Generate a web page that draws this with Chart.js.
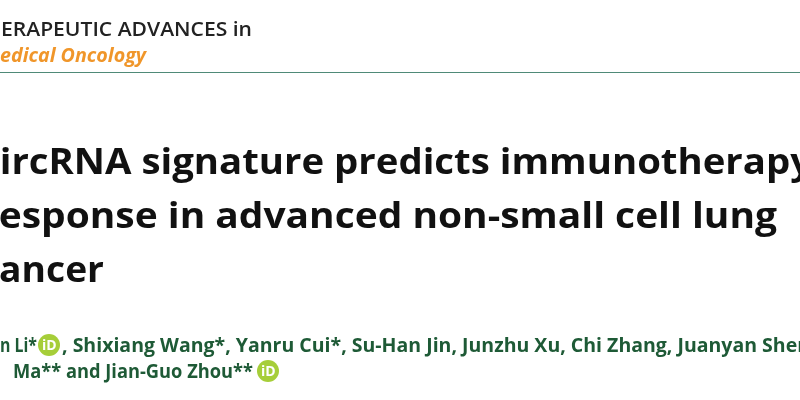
<!DOCTYPE html>
<html><head><meta charset="utf-8">
<script src="https://cdn.jsdelivr.net/npm/chart.js@4"></script>
<style>html,body{margin:0;background:#fff}#c{display:block}</style>
</head><body>
<div style="width:800px;height:400px"><canvas id="c"></canvas></div>
<script>
const journalLines = ["ERAPEUTIC ADVANCES in", "edical Oncology"];
const titleLines = ["circRNA signature predicts immunotherapy", "response in advanced non-small cell lung", "cancer"];
const authorLines = ["n Li*", ", Shixiang Wang*, Yanru Cui*, Su-Han Jin, Junzhu Xu, Chi Zhang, Juanyan Shen", "Ma** and Jian-Guo Zhou**"];

// fit a line to a target width (fonts here differ from the original)
function fitText(ctx, txt, x, y, targetW) {
  const w = ctx.measureText(txt).width;
  ctx.save();
  ctx.translate(x, y);
  ctx.scale(targetW / w, 1);
  ctx.fillText(txt, 0, 0);
  ctx.restore();
}

function orcid(ctx, x, y) {
  ctx.beginPath();
  ctx.fillStyle = '#a6ce39';
  ctx.arc(x + 11, y - 7, 11, 0, Math.PI * 2);
  ctx.fill();
  ctx.fillStyle = '#fff';
  ctx.font = 'bold 14px "Open Sans"';
  ctx.fillText('iD', x + 4, y - 2);
}

const textPlugin = {
  id: 'text',
  afterDraw(chart) {
    const ctx = chart.ctx;
    ctx.save();
    ctx.textBaseline = 'alphabetic';
    ctx.fillStyle = '#222';
    ctx.font = '600 20px "Open Sans"';
    fitText(ctx, journalLines[0], 1, 36, 251);
    ctx.fillStyle = '#f0962a';
    ctx.font = 'italic bold 20px "Open Sans"';
    fitText(ctx, journalLines[1], 0, 62, 146);
    ctx.fillStyle = '#4f8a78';
    ctx.fillRect(0, 72, 800, 1);

    ctx.fillStyle = '#111';
    ctx.font = 'bold 36px "Open Sans"';
    fitText(ctx, titleLines[0], -20, 174, 832);
    fitText(ctx, titleLines[1], -19, 228, 796);
    fitText(ctx, titleLines[2], -20, 282, 124);

    ctx.font = 'bold 19px "Open Sans"';
    ctx.fillStyle = '#1e5a36';
    fitText(ctx, authorLines[0], 0, 352, 37);
    orcid(ctx, 38, 352);
    ctx.fillStyle = '#1e5a36';
    ctx.font = 'bold 19px "Open Sans"';
    fitText(ctx, authorLines[1], 62, 352, 748);
    fitText(ctx, authorLines[2], 13, 378, 240);
    orcid(ctx, 257, 378);
    ctx.restore();
  }
};

new Chart(document.getElementById('c'), {
  type: 'scatter',
  data: { datasets: [] },
  options: {
    responsive: true, maintainAspectRatio: false, animation: false,
    plugins: { legend: { display: false }, tooltip: { enabled: false } },
    scales: { x: { display: false }, y: { display: false } }
  },
  plugins: [textPlugin]
});
</script>
</body></html>
